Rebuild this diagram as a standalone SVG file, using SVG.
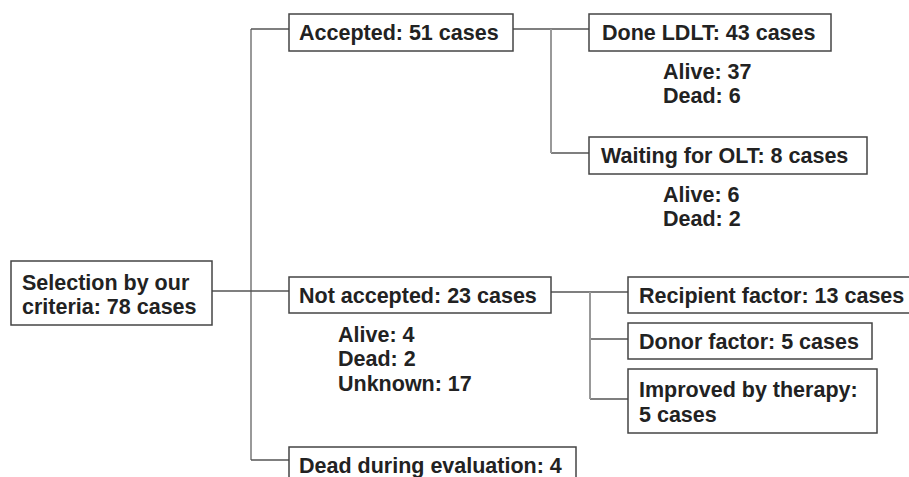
<svg xmlns="http://www.w3.org/2000/svg" width="909" height="477" viewBox="0 0 909 477">
<style>
.box{fill:#fff;stroke:#444;stroke-width:1.5}
.t{font-family:"Liberation Sans",Arial,sans-serif;font-weight:bold;font-size:21.5px;fill:#222}
.h{stroke:#555;stroke-width:1.3;fill:none}
.v{stroke:#999;stroke-width:2;fill:none}
</style>
<rect width="909" height="477" fill="#fff"/>
<g id="connectors">
<path class="v" d="M251,29V460"/>
<path class="h" d="M251,29H289M212,291H289M251,460H289"/>
<path class="h" d="M513,29H589M551,153H589"/>
<path class="v" d="M551,29V153"/>
<path class="h" d="M551,292H628M590,339H628M590,399H628"/>
<path class="v" d="M590,292V399"/>
</g>
<g id="selection">
<rect class="box" x="11" y="261" width="201" height="64"/>
<text class="t" x="22" y="290">Selection by our</text>
<text class="t" x="22" y="314">criteria: 78 cases</text>
</g>
<g id="accepted">
<rect class="box" x="289" y="14" width="224" height="37"/>
<text class="t" x="299" y="40">Accepted: 51 cases</text>
</g>
<g id="done">
<rect class="box" x="589" y="14" width="242" height="37"/>
<text class="t" x="602" y="40">Done LDLT: 43 cases</text>
<text class="t" x="663" y="79">Alive: 37</text>
<text class="t" x="663" y="103">Dead: 6</text>
</g>
<g id="waiting">
<rect class="box" x="589" y="137" width="278" height="37"/>
<text class="t" x="601" y="163">Waiting for OLT: 8 cases</text>
<text class="t" x="663" y="202">Alive: 6</text>
<text class="t" x="663" y="226">Dead: 2</text>
</g>
<g id="notaccepted">
<rect class="box" x="289" y="277" width="262" height="36"/>
<text class="t" x="299" y="303">Not accepted: 23 cases</text>
<text class="t" x="338" y="342">Alive: 4</text>
<text class="t" x="338" y="366">Dead: 2</text>
<text class="t" x="338" y="391">Unknown: 17</text>
</g>
<g id="deadeval">
<rect class="box" x="289" y="447" width="287" height="40"/>
<text class="t" x="299" y="473">Dead during evaluation: 4</text>
</g>
<g id="recipient">
<rect class="box" x="628" y="277" width="290" height="36"/>
<text class="t" x="639" y="303">Recipient factor: 13 cases</text>
</g>
<g id="donor">
<rect class="box" x="628" y="323" width="244" height="36"/>
<text class="t" x="639" y="349">Donor factor: 5 cases</text>
</g>
<g id="improved">
<rect class="box" x="628" y="369" width="249" height="64"/>
<text class="t" x="639" y="397">Improved by therapy:</text>
<text class="t" x="639" y="422">5 cases</text>
</g>
</svg>
